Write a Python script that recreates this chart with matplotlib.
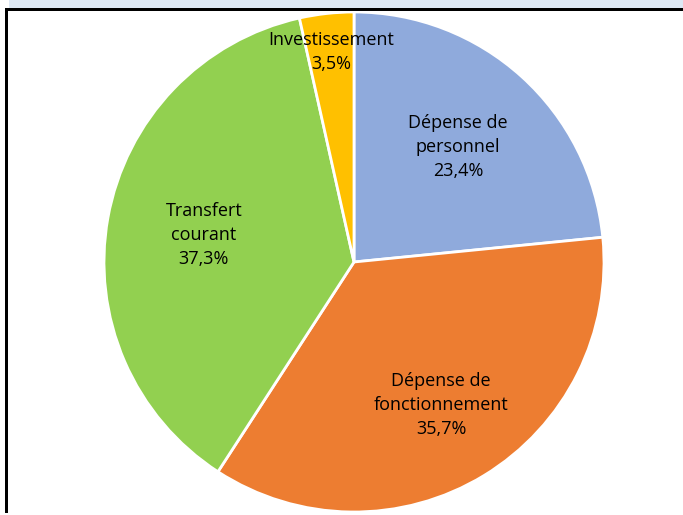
import numpy as np
import matplotlib
matplotlib.use("Agg")
import matplotlib.pyplot as plt
from matplotlib.patches import Rectangle

labels = ["Dépense de\npersonnel", "Dépense de\nfonctionnement", "Transfert\ncourant", "Investissement"]
values = [23.4, 35.7, 37.3, 3.5]
colors = ["#8FAADC", "#ED7D31", "#92D050", "#FFC000"]
label_dist = [0.62, 0.67, 0.61, 0.845]

W, H = 683, 515
fig = plt.figure(figsize=(W / 100, H / 100), dpi=100)
ax = fig.add_axes([0, 0, 1, 1])

cx, cy, r = 354, H - 262, 250
wedges, _ = ax.pie(values, colors=colors, startangle=90, counterclock=False,
                   center=(cx, cy), radius=r, frame=True,
                   wedgeprops=dict(edgecolor="white", linewidth=2))
ax.set_xlim(0, W)
ax.set_ylim(0, H)
ax.set_aspect("equal")
ax.axis("off")

# frame decorations
ax.add_patch(Rectangle((9, H - 8), W - 9, 8, color="#DDE8F4", lw=0, zorder=0))
ax.add_patch(Rectangle((5, H - 11), W - 5, 3, color="black", lw=0, zorder=5))
ax.add_patch(Rectangle((5, H - 513), 3, 505, color="black", lw=0, zorder=5))

for w, lab, v, d in zip(wedges, labels, values, label_dist):
    ang = np.deg2rad((w.theta1 + w.theta2) / 2)
    x = cx + d * r * np.cos(ang)
    y = cy + d * r * np.sin(ang)
    txt = f"{lab}\n{v:.1f}%".replace(".", ",")
    ax.text(x, y, txt, ha="center", va="center", fontsize=13,
            family="Open Sans", linespacing=1.45, color="black")

fig.savefig("out.png", dpi=100)
